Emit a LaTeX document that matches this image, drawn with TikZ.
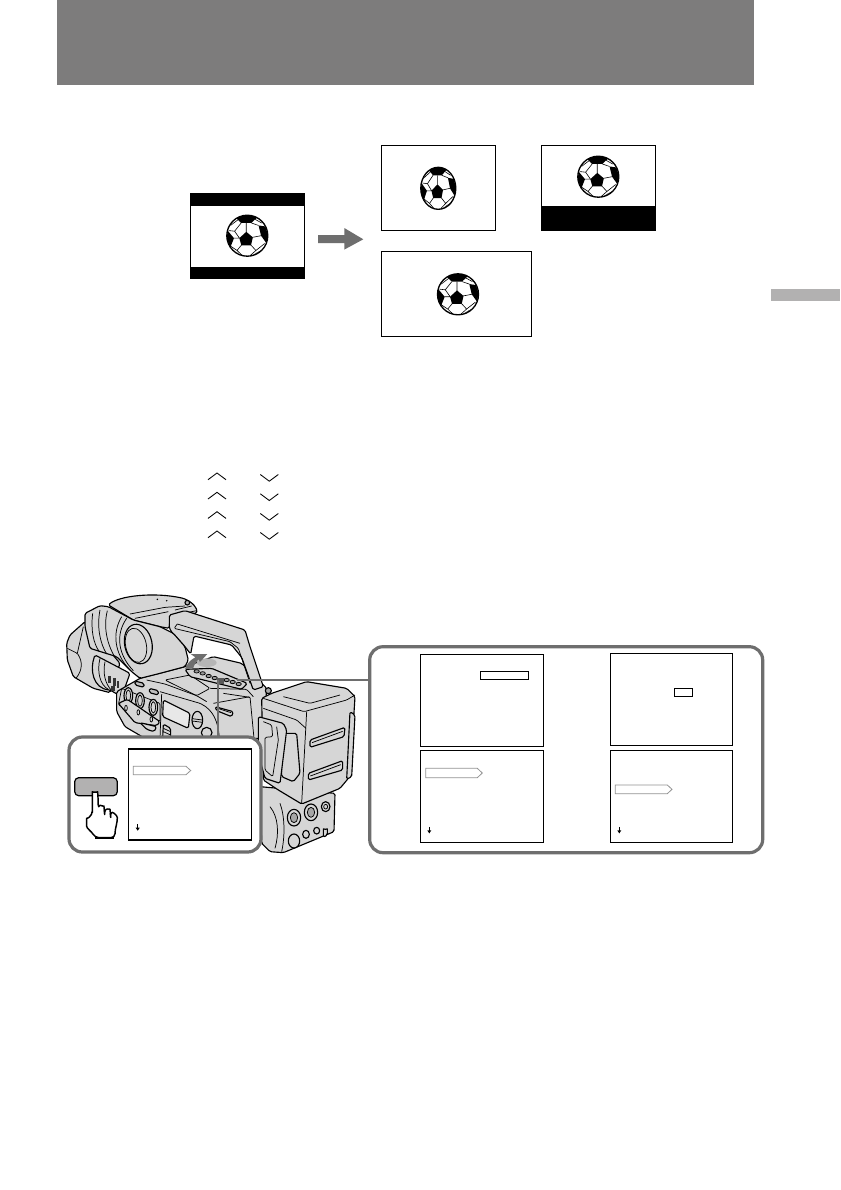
\documentclass[tikz,border=0pt]{standalone}
\usetikzlibrary{calc}
\definecolor{band}{HTML}{7D7C7C}
\definecolor{tabg}{HTML}{B2B1B1}
\definecolor{panelg}{HTML}{6E6E6E}
\definecolor{camg}{HTML}{D6D6D6}
\tikzset{
  frameb/.style={draw=black,line width=1pt,fill=white},
  panelbox/.style={draw=panelg,line width=2.4pt,rounded corners=10pt,fill=white},
  conn/.style={draw=panelg,line width=1.1pt},
  cam/.style={draw=black,line width=0.85pt,fill=camg,line join=round,rounded corners=1.2pt},
  camd/.style={draw=black,line width=0.55pt,line join=round,rounded corners=1pt},
  tagb/.style={draw=gray!85,line width=0.6pt,fill=white},
  chev/.style={draw=black,line width=0.65pt},
  ball/.pic={
    \fill[white] (0,0) circle (1);
    \fill[black] (122:1) arc[start angle=122,end angle=62,radius=1] -- (.2,.62) -- (-.3,.62) -- cycle;
    \fill[black] (-.96,.25) -- (-.65,-.12) -- (-.83,-.58) -- (-1,-.15) -- cycle;
    \fill[black] (.55,.5) -- (.88,.45) -- (1,.05) -- (.93,-.36) -- (.67,0) -- cycle;
    \fill[black] (-.05,.19) -- (.27,-.08) -- (.18,-.47) -- (-.29,-.47) -- (-.39,-.12) -- cycle;
    \fill[black] (.25,-.96) -- (.72,-.7) -- (.5,-.8) -- cycle;
    \draw[black,line width=.45pt,line join=round]
      (-.3,.62) -- (-.62,.22) -- (-.38,-.12) (-.62,.22) -- (-.9,.25)
      (.2,.62) -- (.55,.5)
      (-.05,.17) -- (-.05,.62)
      (.25,-.08) -- (.67,0)
      (-.67,-.12) -- (-.38,-.12)
      (.17,-.45) -- (.42,-.72) -- (.15,-.96)
      (-.28,-.45) -- (-.5,-.72) -- (-.25,-.96)
      (.42,-.72) -- (.85,-.38)
      (-.5,-.72) -- (-.83,-.5)
      (-.45,.78) -- (-.82,.5) (.38,.8) -- (.7,.62);
    \draw[black,line width=1pt] (0,0) circle (1);
  },
}
\newcommand{\smalldown}[2]{%
  \draw[black,line width=.6pt] (#1,#2-3.2) -- (#1,#2+3);
  \fill[black] (#1-2,#2+.4) -- (#1+2,#2+.4) -- (#1,#2+3.4) -- cycle;}
\begin{document}
\begin{tikzpicture}[x=.75pt,y=-.75pt]
\useasboundingbox (0,0) rectangle (840,1190);
\fill[white] (0,0) rectangle (840,1190);
\node[fill=band,draw=none,inner sep=0,minimum width=522.75pt,minimum height=63.75pt,anchor=north west] (banner) at (57,0) {};
\node[fill=tabg,draw=none,inner sep=0,minimum width=51.75pt,minimum height=8.5pt,anchor=north west] (tab) at (771,289) {};

% pictures
\draw[frameb] (190.5,193.5) rectangle (304.5,278.5);
\fill[black] (190,193) rectangle (305,206); \fill[black] (190,267) rectangle (305,279);
\pic[xscale=20.5,yscale=-20.5] at (247.3,235.7) {ball};
\draw[frameb] (381.5,145.5) rectangle (495.5,230.5);
\pic[xscale=17.5,yscale=-21] at (438.3,188.3) {ball};
\draw[frameb] (541.5,145.5) rectangle (655.5,230.5);
\fill[black] (541,206) rectangle (656,231);
\pic[xscale=20.5,yscale=-20.5] at (598.3,176.7) {ball};
\draw[frameb] (381.5,251.5) rectangle (531.5,336.5);
\pic[xscale=20.5,yscale=-20.5] at (458,294.3) {ball};
\fill[panelg] (318,235.2) -- (344.3,235.2) -- (344.3,228) -- (363.3,239.3) -- (344.3,249.6) -- (344.3,243.2) -- (318,243.2) -- cycle;

% chevrons
\foreach \yy in {473,492.3,511.7,531}{\draw[chev] (208,\yy+6.7) -- (217,\yy) -- (226,\yy+6.7);}
\foreach \yy in {474.5,493.8,513.5,532.5}{\draw[chev] (260.3,\yy) -- (269.3,\yy+6.7) -- (278.3,\yy);}

% camcorder: coordinates of a 3x working grid
\begin{scope}[shift={(50,580)},x=.25pt,y=-.25pt]
  % lower block
  \draw[cam] (630,620) -- (855,640) -- (852,755) -- (700,818) -- (660,815) -- (635,790) -- cycle;
  \draw[camd] (690,670) .. controls (705,710) and (705,770) .. (695,815);
  \draw[camd] (660,680) .. controls (685,710) and (688,760) .. (675,805);
  \draw[cam] (732,713) ellipse (20 and 25); \draw[camd,fill=gray!70] (732,713) ellipse (11 and 15);
  \draw[cam] (783,697) ellipse (20 and 25); \draw[camd,fill=gray!70] (783,697) ellipse (11 and 15);
  \draw[cam] (827,680) ellipse (13 and 15); \draw[camd] (827,680) ellipse (6 and 7);
  \draw[cam] (732,783) ellipse (17 and 21);
  \draw[cam] (768,763) ellipse (10 and 12);
  \draw[cam] (800,752) ellipse (9 and 10);
  \draw[cam] (820,772) -- (820,742) arc (180:0:6) -- (832,765) -- cycle;
  % lens hood
  \draw[cam] (105,125) -- (60,165) -- (50,190) -- (52,240) -- (70,290) -- (130,325) -- (180,338) -- (210,250) -- cycle;
  \draw[camd] (52,205) -- (82,220) .. controls (98,245) and (98,270) .. (78,295);
  \draw[camd] (82,220) -- (100,140);
  % lens barrel
  \draw[cam] (135,225) .. controls (118,270) and (130,325) .. (180,330) -- (215,350) -- (240,280) -- cycle;
  \draw[camd] (150,235) .. controls (140,275) and (150,315) .. (175,328);
  \draw[camd] (165,245) .. controls (158,280) and (165,310) .. (185,332);
  \fill[black!80] (174,288) rectangle (183,310); \fill[black!80] (188,295) rectangle (197,318); \fill[black!80] (200,302) rectangle (208,325); \fill[black!80] (182,318) rectangle (194,334);
  % top cover
  \draw[cam] (175,75) .. controls (205,48) and (310,35) .. (400,55) .. controls (430,68) and (442,85) .. (440,100) -- (360,105) -- (358,145) -- (330,140) -- (250,120) -- cycle;
  \draw[camd] (240,102) -- (345,82) -- (405,78);
  \draw[camd] (255,115) -- (355,95);
  \draw[camd] (375,90) -- (425,78) (385,103) -- (440,92);
  \fill[black] (322,58) circle (2.5); \fill[black] (350,62) circle (2.5);
  \draw[cam,fill=gray!60] (412,68) circle (7);
  % body
  \draw[cam] (200,335) -- (270,295) -- (405,260) -- (490,230) -- (575,250) -- (650,325) -- (640,475) -- (285,475) -- (225,440) -- (200,395) -- cycle;
  \draw[camd] (345,300) -- (420,285) -- (480,325) -- (440,347) -- cycle;
  \draw[camd] (290,300) -- (345,312) -- (440,347) -- (470,365);
  \draw[camd] (480,325) -- (590,328) -- (610,350);
  \draw[camd] (330,335) -- (450,370) .. controls (490,390) and (505,425) .. (508,475);
  \draw[camd] (335,342) -- (330,475);
  \draw[camd] (490,370) -- (600,350) -- (612,475);
  \draw[camd] (520,340) -- (600,352);
  % dials
  \draw[camd] (215,325) -- (330,370) -- (330,425) -- (205,375) -- cycle;
  \draw[cam] (235,347) ellipse (13 and 24); \draw[camd] (235,347) ellipse (7 and 17);
  \draw[cam] (270,362) ellipse (13 and 24); \draw[camd] (270,362) ellipse (7 and 17);
  \draw[cam] (310,382) ellipse (13 and 24); \draw[camd] (310,382) ellipse (7 and 17);
  \draw[cam] (205,370) -- (232,358) -- (330,425) -- (320,437) -- (255,428) -- cycle;
  \draw[camd] (228,384) ellipse (4 and 8) (265,397) ellipse (4 and 8) (304,418) ellipse (4 and 8);
  \draw[cam] (270,428) -- (320,440) -- (312,455) -- (290,448) -- cycle;
  \draw[cam,fill=white!45!camg] (340,360) -- (420,400) -- (415,445) -- (338,410) -- cycle;
  \draw[cam] (442,420) ellipse (16 and 26);
  \draw[camd] (427,416) -- (457,420) (427,423) -- (457,427);
  \draw[cam] (470,458) circle (16);
  \draw[cam,fill=gray!50] (255,303) -- (282,310) -- (282,322) -- (255,315) -- cycle;
  \draw[cam,fill=gray!50] (298,325) -- (325,332) -- (325,345) -- (298,338) -- cycle;
  \draw[cam] (340,432) -- (362,445) -- (362,475) -- (338,475) -- cycle;
  \draw[camd] (340,445) -- (362,455) (340,455) -- (362,465);
  \draw[cam] (495,380) -- (550,395) -- (545,410) -- (500,392) -- cycle;
  \draw[camd] (503,385) -- (543,398);
  % handle
  \draw[cam] (358,105) -- (405,92) -- (585,150) -- (600,200) -- (640,320) -- (610,330) -- (575,232) -- (545,195) -- (432,168) -- (422,222) -- (405,200) -- (368,160) -- (358,145) -- cycle;
  \draw[camd] (382,132) -- (372,145) -- (540,185) -- (565,205) -- (600,310);
  \draw[camd] (382,132) -- (570,190);
  % control panel top
  \draw[cam,fill=gray!35] (405,268) -- (485,265) -- (592,310) -- (575,328) -- (420,290) -- cycle;
  \fill[camg!85!black] (470,248) ellipse (30 and 13);
  \fill[panelg] (405,268) .. controls (410,252) and (420,240) .. (436,232) -- (422,222) -- (472,222) -- (450,246) -- (446,238) .. controls (438,245) and (432,255) .. (430,264) -- cycle;
  \foreach \v/\w in {440/274,458/280,476/288,494/294,512/302,530/300,548/306,566/312}{\draw[camd,fill=gray!80] (\v,\w) ellipse (8 and 5);}
  \fill[black!65] (500,295) rectangle (522,312);
  % viewfinder eyecup
  \draw[cam] (105,100) -- (150,77) -- (175,80) -- (250,120) -- (330,140) -- (370,160) -- (405,200) -- (415,240) -- (405,260) -- (330,280) -- (270,295) -- (245,275) -- (200,230) -- (120,205) -- (105,140) -- cycle;
  \draw[camd] (128,100) .. controls (122,150) and (130,190) .. (148,215);
  \draw[camd] (150,90) .. controls (140,140) and (150,190) .. (170,222);
  \draw[camd] (172,92) .. controls (160,140) and (170,190) .. (195,232);
  \draw[camd] (215,110) .. controls (185,160) and (195,220) .. (235,265);
  \draw[camd] (230,115) .. controls (195,165) and (205,225) .. (250,272);
  \draw[cam,rotate around={12:(265,192)}] (265,192) ellipse (41 and 60);
  \draw[camd,rotate around={12:(258,196)}] (258,196) ellipse (31 and 52);
  % battery
  \draw[cam] (635,355) -- (665,340) -- (770,305) -- (890,325) -- (915,350) -- (910,430) -- (895,595) -- (870,625) -- (755,672) -- (685,630) -- (640,600) -- cycle;
  \draw[camd] (640,355) -- (762,395) -- (890,360) -- (915,345);
  \draw[camd] (700,350) -- (780,370) -- (870,345);
  \draw[camd] (770,395) -- (755,670);
  \draw[camd] (640,385) -- (740,420) -- (768,445);
  \draw[cam] (780,480) -- (885,442) -- (882,470) -- (780,502) -- cycle;
  \draw[camd] (786,488) -- (878,454);
  \draw[cam] (775,580) -- (878,542) -- (878,570) -- (775,600) -- cycle;
  \draw[camd] (781,588) -- (872,554);
  \draw[cam] (900,395) -- (915,405) -- (905,590) -- (890,598) -- cycle;
  \draw[cam] (695,460) -- (740,460) -- (750,580) -- (730,605) -- (695,590) -- cycle;
  \draw[cam] (625,410) -- (700,430) -- (710,450) -- (690,610) -- (645,595) -- (625,520) -- cycle;
  \draw[camd] (640,425) -- (665,435) -- (668,470) -- (645,472) -- (645,570) -- (668,590) -- (685,480) -- (680,440);
  \draw[cam,fill=gray!70] (655,332) circle (9);
\end{scope}

% left panel
\coordinate (ctop) at (218,680);
\draw[conn] (ctop) -- (218,737);
\draw[panelbox] (69,737) rectangle (261,852);
\draw[frameb] (128.5,749) rectangle (251.5,840);
\draw[tagb] (133.3,766.3) -- (186,766.3) -- (190.7,770.5) -- (186,774.7) -- (133.3,774.7) -- cycle;
\smalldown{137.7}{827.3}
\draw[black,line width=.9pt,fill=tabg,rounded corners=3pt] (74.7,777.7) rectangle (117.3,795.7);
% hand
\begin{scope}[shift={(60,735)},x=.25pt,y=-.25pt]
  \draw[black,line width=1.1pt,fill=white,line join=round,rounded corners=3pt]
    (97,240) -- (97,182) .. controls (97,172) and (113,172) .. (114,182) -- (115,222)
    .. controls (120,210) and (132,215) .. (133,225) -- (134,238)
    .. controls (137,220) and (150,222) .. (151,235) -- (152,245)
    .. controls (155,228) and (172,240) .. (172,260) -- (165,285) -- (165,308) -- (105,308)
    .. controls (95,290) and (80,280) .. (80,262) .. controls (80,252) and (90,245) .. (97,240) -- cycle;
  \draw[black,line width=1.6pt] (105,309) -- (163,309);
  \draw[black,line width=.9pt] (133,225) -- (134,240) (151,235) -- (152,248);
\end{scope}

% right panel
\coordinate (cleft) at (237,680);
\node[draw=none,inner sep=0,minimum size=1pt] (rp) at (369.7,680) {};
\draw[conn] (cleft) -- (rp.center);
\draw[panelbox] (369.7,646.7) rectangle (762.7,852.7);
\draw[frameb] (420.5,654.5) rectangle (543.5,746.5);
\draw[frameb] (610.5,653.5) rectangle (732.5,745.5);
\draw[frameb] (420.5,750.5) rectangle (543.5,842.5);
\draw[frameb] (610.5,750.5) rectangle (732.5,842.5);
\draw[frameb] (480.3,671.3) rectangle (528.7,679.7);
\draw[frameb] (674.3,688.3) rectangle (692.7,696.7);
\draw[tagb] (425.7,768.3) -- (477.3,768.3) -- (482.3,773) -- (477.3,777.7) -- (425.7,777.7) -- cycle;
\draw[tagb] (615.3,785) -- (667.3,785) -- (672,789.3) -- (667.3,793.7) -- (615.3,793.7) -- cycle;
\smalldown{429.3}{830}
\smalldown{619.3}{830}
\end{tikzpicture}
\end{document}
